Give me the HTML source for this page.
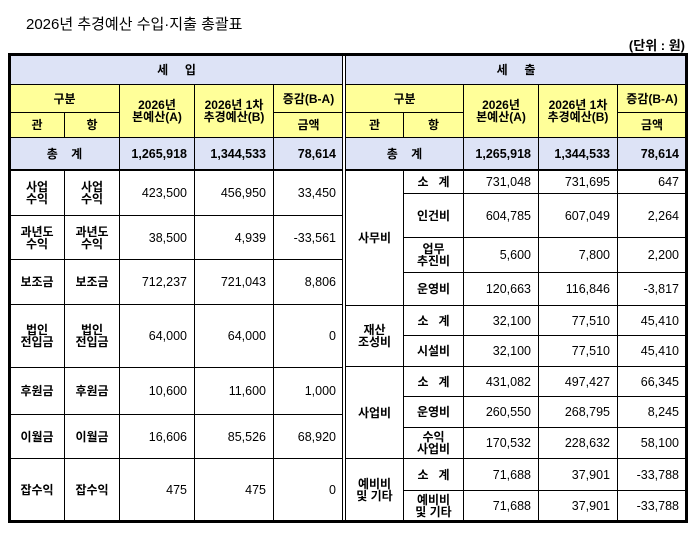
<!DOCTYPE html>
<html><head><meta charset="utf-8"><style>
body{margin:0;width:694px;height:534px;background:#fff;position:relative;font-family:"Liberation Sans","Noto Sans CJK KR","NanumGothic",sans-serif;color:#000;overflow:hidden}
.c{position:absolute;box-sizing:border-box;border:1px solid #000;display:flex;align-items:center;justify-content:center;text-align:center;font-size:12px;line-height:12px;font-weight:bold}
.n{justify-content:flex-end;padding-right:7px;font-weight:normal;font-size:12.5px}
.nb{justify-content:flex-end;padding-right:7px;font-size:12.5px}
.b{background:#dde3f6}.y{background:#ffff99}
.l{position:absolute;background:#000}
</style></head><body>
<div style="position:absolute;left:26px;top:13px;font-size:15px">2026년 추경예산 수입·지출 총괄표</div>
<div style="position:absolute;right:9px;top:35px;font-size:13px;font-weight:bold">(단위 : 원)</div>

<!-- left header -->
<div class="c b" style="left:9px;top:54px;width:335px;height:31px">세&nbsp;&nbsp;&nbsp;&nbsp;&nbsp;입</div>
<div class="c y" style="left:9px;top:84px;width:111px;height:29px">구분</div>
<div class="c y" style="left:9px;top:112px;width:56px;height:26px">관</div>
<div class="c y" style="left:64px;top:112px;width:56px;height:26px">항</div>
<div class="c y" style="left:119px;top:84px;width:76px;height:54px">2026년<br>본예산(A)</div>
<div class="c y" style="left:194px;top:84px;width:80px;height:54px">2026년 1차<br>추경예산(B)</div>
<div class="c y" style="left:273px;top:84px;width:71px;height:29px">증감(B-A)</div>
<div class="c y" style="left:273px;top:112px;width:71px;height:26px">금액</div>
<div class="c b" style="left:9px;top:137px;width:111px;height:34px">총&nbsp;&nbsp;&nbsp;&nbsp;계</div>
<div class="c b nb" style="left:119px;top:137px;width:76px;height:34px">1,265,918</div>
<div class="c b nb" style="left:194px;top:137px;width:80px;height:34px">1,344,533</div>
<div class="c b nb" style="left:273px;top:137px;width:71px;height:34px">78,614</div>

<!-- left rows -->
<div class="c" style="left:9px;top:170px;width:56px;height:46px">사업<br>수익</div>
<div class="c" style="left:64px;top:170px;width:56px;height:46px">사업<br>수익</div>
<div class="c n" style="left:119px;top:170px;width:76px;height:46px">423,500</div>
<div class="c n" style="left:194px;top:170px;width:80px;height:46px">456,950</div>
<div class="c n" style="left:273px;top:170px;width:71px;height:46px">33,450</div>

<div class="c" style="left:9px;top:215px;width:56px;height:45px">과년도<br>수익</div>
<div class="c" style="left:64px;top:215px;width:56px;height:45px">과년도<br>수익</div>
<div class="c n" style="left:119px;top:215px;width:76px;height:45px">38,500</div>
<div class="c n" style="left:194px;top:215px;width:80px;height:45px">4,939</div>
<div class="c n" style="left:273px;top:215px;width:71px;height:45px">-33,561</div>

<div class="c" style="left:9px;top:259px;width:56px;height:46px">보조금</div>
<div class="c" style="left:64px;top:259px;width:56px;height:46px">보조금</div>
<div class="c n" style="left:119px;top:259px;width:76px;height:46px">712,237</div>
<div class="c n" style="left:194px;top:259px;width:80px;height:46px">721,043</div>
<div class="c n" style="left:273px;top:259px;width:71px;height:46px">8,806</div>

<div class="c" style="left:9px;top:304px;width:56px;height:64px">법인<br>전입금</div>
<div class="c" style="left:64px;top:304px;width:56px;height:64px">법인<br>전입금</div>
<div class="c n" style="left:119px;top:304px;width:76px;height:64px">64,000</div>
<div class="c n" style="left:194px;top:304px;width:80px;height:64px">64,000</div>
<div class="c n" style="left:273px;top:304px;width:71px;height:64px">0</div>

<div class="c" style="left:9px;top:367px;width:56px;height:48px">후원금</div>
<div class="c" style="left:64px;top:367px;width:56px;height:48px">후원금</div>
<div class="c n" style="left:119px;top:367px;width:76px;height:48px">10,600</div>
<div class="c n" style="left:194px;top:367px;width:80px;height:48px">11,600</div>
<div class="c n" style="left:273px;top:367px;width:71px;height:48px">1,000</div>

<div class="c" style="left:9px;top:414px;width:56px;height:45px">이월금</div>
<div class="c" style="left:64px;top:414px;width:56px;height:45px">이월금</div>
<div class="c n" style="left:119px;top:414px;width:76px;height:45px">16,606</div>
<div class="c n" style="left:194px;top:414px;width:80px;height:45px">85,526</div>
<div class="c n" style="left:273px;top:414px;width:71px;height:45px">68,920</div>

<div class="c" style="left:9px;top:458px;width:56px;height:64px">잡수익</div>
<div class="c" style="left:64px;top:458px;width:56px;height:64px">잡수익</div>
<div class="c n" style="left:119px;top:458px;width:76px;height:64px">475</div>
<div class="c n" style="left:194px;top:458px;width:80px;height:64px">475</div>
<div class="c n" style="left:273px;top:458px;width:71px;height:64px">0</div>

<!-- right header -->
<div class="c b" style="left:345px;top:54px;width:342px;height:31px">세&nbsp;&nbsp;&nbsp;&nbsp;&nbsp;출</div>
<div class="c y" style="left:345px;top:84px;width:119px;height:29px">구분</div>
<div class="c y" style="left:345px;top:112px;width:59px;height:26px">관</div>
<div class="c y" style="left:403px;top:112px;width:61px;height:26px">항</div>
<div class="c y" style="left:463px;top:84px;width:76px;height:54px">2026년<br>본예산(A)</div>
<div class="c y" style="left:538px;top:84px;width:80px;height:54px">2026년 1차<br>추경예산(B)</div>
<div class="c y" style="left:617px;top:84px;width:70px;height:29px">증감(B-A)</div>
<div class="c y" style="left:617px;top:112px;width:70px;height:26px">금액</div>
<div class="c b" style="left:345px;top:137px;width:119px;height:34px">총&nbsp;&nbsp;&nbsp;&nbsp;계</div>
<div class="c b nb" style="left:463px;top:137px;width:76px;height:34px">1,265,918</div>
<div class="c b nb" style="left:538px;top:137px;width:80px;height:34px">1,344,533</div>
<div class="c b nb" style="left:617px;top:137px;width:70px;height:34px">78,614</div>

<!-- right rows -->
<div class="c" style="left:345px;top:170px;width:59px;height:136px">사무비</div>
<div class="c" style="left:345px;top:305px;width:59px;height:62px">재산<br>조성비</div>
<div class="c" style="left:345px;top:366px;width:59px;height:93px">사업비</div>
<div class="c" style="left:345px;top:458px;width:59px;height:64px">예비비<br>및 기타</div>

<div class="c" style="left:403px;top:170px;width:61px;height:24px">소&nbsp;&nbsp;&nbsp;계</div>
<div class="c n" style="left:463px;top:170px;width:76px;height:24px">731,048</div>
<div class="c n" style="left:538px;top:170px;width:80px;height:24px">731,695</div>
<div class="c n" style="left:617px;top:170px;width:70px;height:24px">647</div>

<div class="c" style="left:403px;top:193px;width:61px;height:45px">인건비</div>
<div class="c n" style="left:463px;top:193px;width:76px;height:45px">604,785</div>
<div class="c n" style="left:538px;top:193px;width:80px;height:45px">607,049</div>
<div class="c n" style="left:617px;top:193px;width:70px;height:45px">2,264</div>

<div class="c" style="left:403px;top:237px;width:61px;height:36px">업무<br>추진비</div>
<div class="c n" style="left:463px;top:237px;width:76px;height:36px">5,600</div>
<div class="c n" style="left:538px;top:237px;width:80px;height:36px">7,800</div>
<div class="c n" style="left:617px;top:237px;width:70px;height:36px">2,200</div>

<div class="c" style="left:403px;top:272px;width:61px;height:34px">운영비</div>
<div class="c n" style="left:463px;top:272px;width:76px;height:34px">120,663</div>
<div class="c n" style="left:538px;top:272px;width:80px;height:34px">116,846</div>
<div class="c n" style="left:617px;top:272px;width:70px;height:34px">-3,817</div>

<div class="c" style="left:403px;top:305px;width:61px;height:31px">소&nbsp;&nbsp;&nbsp;계</div>
<div class="c n" style="left:463px;top:305px;width:76px;height:31px">32,100</div>
<div class="c n" style="left:538px;top:305px;width:80px;height:31px">77,510</div>
<div class="c n" style="left:617px;top:305px;width:70px;height:31px">45,410</div>

<div class="c" style="left:403px;top:335px;width:61px;height:32px">시설비</div>
<div class="c n" style="left:463px;top:335px;width:76px;height:32px">32,100</div>
<div class="c n" style="left:538px;top:335px;width:80px;height:32px">77,510</div>
<div class="c n" style="left:617px;top:335px;width:70px;height:32px">45,410</div>

<div class="c" style="left:403px;top:366px;width:61px;height:31px">소&nbsp;&nbsp;&nbsp;계</div>
<div class="c n" style="left:463px;top:366px;width:76px;height:31px">431,082</div>
<div class="c n" style="left:538px;top:366px;width:80px;height:31px">497,427</div>
<div class="c n" style="left:617px;top:366px;width:70px;height:31px">66,345</div>

<div class="c" style="left:403px;top:396px;width:61px;height:32px">운영비</div>
<div class="c n" style="left:463px;top:396px;width:76px;height:32px">260,550</div>
<div class="c n" style="left:538px;top:396px;width:80px;height:32px">268,795</div>
<div class="c n" style="left:617px;top:396px;width:70px;height:32px">8,245</div>

<div class="c" style="left:403px;top:427px;width:61px;height:32px">수익<br>사업비</div>
<div class="c n" style="left:463px;top:427px;width:76px;height:32px">170,532</div>
<div class="c n" style="left:538px;top:427px;width:80px;height:32px">228,632</div>
<div class="c n" style="left:617px;top:427px;width:70px;height:32px">58,100</div>

<div class="c" style="left:403px;top:458px;width:61px;height:33px">소&nbsp;&nbsp;&nbsp;계</div>
<div class="c n" style="left:463px;top:458px;width:76px;height:33px">71,688</div>
<div class="c n" style="left:538px;top:458px;width:80px;height:33px">37,901</div>
<div class="c n" style="left:617px;top:458px;width:70px;height:33px">-33,788</div>

<div class="c" style="left:403px;top:490px;width:61px;height:32px">예비비<br>및 기타</div>
<div class="c n" style="left:463px;top:490px;width:76px;height:32px">71,688</div>
<div class="c n" style="left:538px;top:490px;width:80px;height:32px">37,901</div>
<div class="c n" style="left:617px;top:490px;width:70px;height:32px">-33,788</div>

<!-- thick lines -->
<div class="l" style="left:8px;top:53px;width:680px;height:3px"></div>
<div class="l" style="left:8px;top:520px;width:680px;height:3px"></div>
<div class="l" style="left:8px;top:53px;width:3px;height:470px"></div>
<div class="l" style="left:685px;top:53px;width:3px;height:470px"></div>
<div class="l" style="left:8px;top:169px;width:680px;height:2px"></div>
<div class="l" style="left:342px;top:53px;width:1px;height:470px"></div>
<div class="l" style="left:345px;top:53px;width:1px;height:470px"></div>
<div style="position:absolute;left:343px;top:56px;width:2px;height:464px;background:#fff"></div>
</body></html>
